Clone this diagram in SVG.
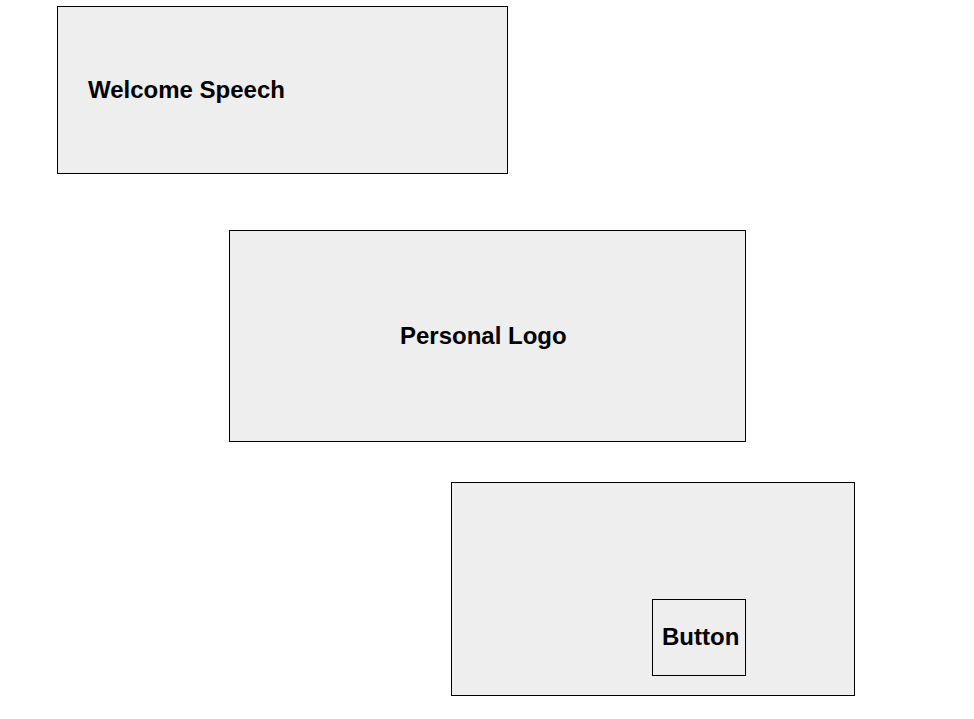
<svg xmlns="http://www.w3.org/2000/svg" width="974" height="719" viewBox="0 0 974 719">
<style>
.box{fill:#eeeeee;stroke:#000;stroke-width:1}
.lbl{font-family:"Liberation Sans",Arial,sans-serif;font-weight:bold;font-size:24px;fill:#000}
</style>
<rect width="974" height="719" fill="#fff"/>
<g id="welcome-speech">
<rect class="box" x="57.5" y="6.5" width="450" height="167"/>
<text class="lbl" x="88" y="98">Welcome Speech</text>
</g>
<g id="personal-logo">
<rect class="box" x="229.5" y="230.5" width="516" height="211"/>
<text class="lbl" x="400" y="344">Personal Logo</text>
</g>
<g id="container">
<rect class="box" x="451.5" y="482.5" width="403" height="213"/>
</g>
<g id="button">
<rect class="box" x="652.5" y="599.5" width="93" height="76"/>
<text class="lbl" x="662" y="645">Button</text>
</g>
<g id="connectors"></g>
</svg>
